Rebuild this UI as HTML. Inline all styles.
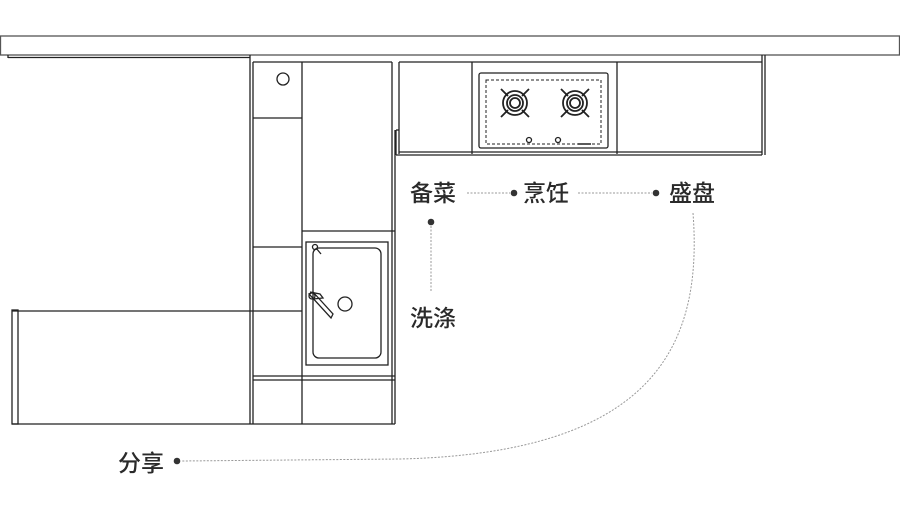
<!DOCTYPE html>
<html><head><meta charset="utf-8"><style>
html,body{margin:0;padding:0;background:#fff;}
svg{display:block}
text{font-family:"Liberation Sans","Noto Sans CJK SC",sans-serif;font-size:23px;font-weight:500;fill:#2a2a2a;}
</style></head><body>
<svg width="900" height="507" viewBox="0 0 900 507" xmlns="http://www.w3.org/2000/svg">
<g fill="none" stroke="#222" stroke-width="1.3">
<rect x="0.5" y="36" width="899" height="19" stroke="#555"/>
<line x1="8" y1="57.5" x2="250" y2="57.5"/>
<line x1="8" y1="55" x2="8" y2="58"/>
<line x1="250" y1="55" x2="250" y2="424"/>
<line x1="253" y1="62" x2="253" y2="424"/>
<line x1="253" y1="62" x2="392" y2="62"/>
<line x1="302" y1="62" x2="302" y2="424"/>
<line x1="392" y1="62" x2="392" y2="424"/>
<line x1="395" y1="130" x2="395" y2="424"/>
<line x1="253" y1="118" x2="302" y2="118"/>
<line x1="253" y1="247" x2="302" y2="247"/>
<line x1="302" y1="231" x2="395" y2="231"/>
<line x1="12" y1="311" x2="302" y2="311"/>
<line x1="253" y1="376" x2="395" y2="376"/>
<line x1="253" y1="380" x2="395" y2="380"/>
<line x1="12" y1="424" x2="395" y2="424"/>
<rect x="12" y="310" width="6" height="114"/>
<circle cx="283" cy="79" r="6"/>
<rect x="306" y="242" width="82" height="123"/>
<rect x="313" y="248" width="68" height="110" rx="6"/>
<circle cx="345" cy="304" r="7"/>
<circle cx="315" cy="247" r="2.5"/>
<line x1="316" y1="248" x2="321" y2="254"/>
<path d="M309,294 L313,292 L333,314 L331,318 Z"/>
<circle cx="312" cy="296" r="3"/>
<path d="M310,292 L320,294 L323,298 L313,299"/>
<line x1="399" y1="62" x2="762" y2="62"/>
<line x1="399" y1="62" x2="399" y2="154"/>
<line x1="396" y1="130" x2="399" y2="130"/>
<line x1="396" y1="130" x2="396" y2="155"/>
<line x1="399" y1="152" x2="762" y2="152"/>
<line x1="396" y1="155" x2="762" y2="155"/>
<line x1="472" y1="62" x2="472" y2="154"/>
<line x1="617" y1="62" x2="617" y2="154"/>
<line x1="762" y1="55" x2="762" y2="155"/>
<line x1="765" y1="55" x2="765" y2="155"/>
<rect x="479" y="73" width="129" height="75" rx="2"/>
<rect x="486" y="80" width="115" height="64" stroke-dasharray="3,2" stroke-width="1"/>
<g stroke-width="1.8">
<circle cx="515" cy="103" r="12"/><circle cx="515" cy="103" r="8"/><circle cx="515" cy="103" r="5"/>
<path d="M501,89 L508,96 M529,89 L522,96 M501,117 L508,110 M529,117 L522,110"/>
<circle cx="575" cy="103" r="12"/><circle cx="575" cy="103" r="8"/><circle cx="575" cy="103" r="5"/>
<path d="M561,89 L568,96 M589,89 L582,96 M561,117 L568,110 M589,117 L582,110"/>
</g>
<circle cx="529" cy="140" r="2.5"/><circle cx="558" cy="140" r="2.5"/>
<line x1="578" y1="144" x2="591" y2="144" stroke-width="1.5"/>
</g>
<g fill="none" stroke="#999" stroke-width="1" stroke-dasharray="2,1.5">
<line x1="467" y1="193" x2="510" y2="193"/>
<line x1="578" y1="193" x2="652" y2="193"/>
<line x1="431" y1="226" x2="431" y2="292"/>
<path d="M693,213 C703,345 655,453 400,459 L182,461"/>
</g>
<g fill="#333">
<circle cx="514" cy="193" r="3.3"/>
<circle cx="656" cy="193" r="3.3"/>
<circle cx="431" cy="222" r="3.3"/>
<circle cx="177" cy="461" r="3.3"/>
</g>
<text x="410" y="201">备菜</text>
<text x="523" y="201">烹饪</text>
<text x="669" y="201">盛盘</text>
<text x="410" y="326">洗涤</text>
<text x="118" y="471">分享</text>
</svg>
</body></html>
